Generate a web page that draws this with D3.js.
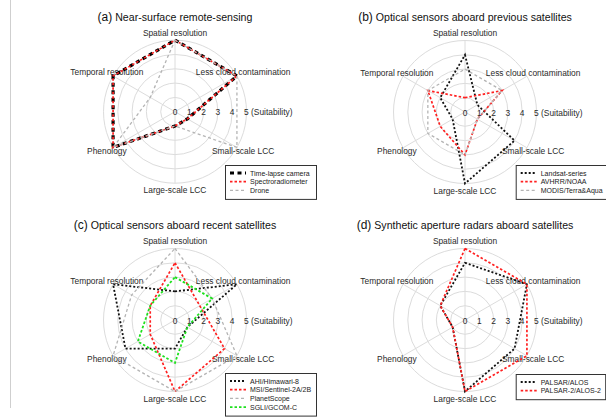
<!DOCTYPE html>
<html lang="en">
  <head>
    <meta charset="UTF-8" />
    <title>Suitability radar charts</title>
    <script src="https://d3js.org/d3.v7.min.js"></script>
    <style>
      body {
        margin: 0;
        background: #fff;
      }
      svg {
        display: block;
        font-family: "Liberation Sans", Arial, sans-serif;
      }
      .grid {
        fill: none;
        stroke: #dcdcdc;
        stroke-width: 1;
      }
      .axis-label,
      .tick-label {
        font-size: 8.4px;
        fill: #2a2a2a;
      }
      .legend text {
        font-size: 7px;
        fill: #222;
      }
    </style>
  </head>
  <body>
    <div id="chart"></div>

    <script>
      // axes of every radar (clockwise from top)
      const axes = [
        "Spatial resolution",
        "Less cloud contamination",
        "Small-scale LCC",
        "Large-scale LCC",
        "Phenology",
        "Temporal resolution",
      ];
      const ticks = [0, 1, 2, 3, 4, 5];
      const tickLabels = ["0", "1", "2", "3", "4", "5 (Suitability)"];

      // (a) near-surface
      const timeLapse = [5, 5, 1, 1, 5, 5];
      const spectroradiometer = [5, 5, 1, 1, 5, 5];
      const drone = [5, 5, 5, 1, 5, 2];
      // (b) previous satellites
      const landsat = [4, 1, 4, 5, 1, 2];
      const avhrr = [1, 3, 1, 3, 2, 3];
      const modis = [3, 3, 1, 3, 3, 3];
      // (c) recent satellites
      const ahi = [2, 5, 1, 2, 4, 5];
      const msi = [4, 2, 4, 5, 2, 2];
      const planetScope = [5, 3, 5, 5, 5, 3.5];
      const sgli = [3, 3, 1, 3, 3, 2];
      // (d) SAR
      const palsar = [4, 5, 4, 5, 1, 2];
      const palsar2 = [5, 5, 5, 5, 1, 2];

      // line looks
      const styles = {
        thick: { color: "#000", width: 3.2, dash: "4,3.5" },
        black: { color: "#111", width: 1.8, dash: "2,2" },
        red: { color: "#ff2020", width: 1.7, dash: "2.5,2" },
        gray: { color: "#b4b4b4", width: 1.3, dash: "3,2.5" },
        green: { color: "#1ee01e", width: 1.8, dash: "2.5,2" },
      };

      const panels = [
        {
          tag: "(a)",
          title: " Near-surface remote-sensing",
          cx: 175, cy: 111.7,
          legend: { x: 225, y: 165, w: 91 },
          series: [
            { name: "Time-lapse camera", values: timeLapse, style: "thick" },
            { name: "Spectroradiometer", values: spectroradiometer, style: "red" },
            { name: "Drone", values: drone, style: "gray" },
          ],
        },
        {
          tag: "(b)",
          title: " Optical sensors aboard previous satellites",
          cx: 465, cy: 112,
          legend: { x: 515.7, y: 165, w: 100 },
          series: [
            { name: "Landsat-series", values: landsat, style: "black" },
            { name: "AVHRR/NOAA", values: avhrr, style: "red" },
            { name: "MODIS/Terra&Aqua", values: modis, style: "gray" },
          ],
        },
        {
          tag: "(c)",
          title: " Optical sensors aboard recent satellites",
          cx: 175, cy: 320,
          legend: { x: 225, y: 373, w: 91 },
          series: [
            { name: "AHI/Himawari-8", values: ahi, style: "black" },
            { name: "MSI/Sentinel-2A/2B", values: msi, style: "red" },
            { name: "PlanetScope", values: planetScope, style: "gray" },
            { name: "SGLI/GCOM-C", values: sgli, style: "green" },
          ],
        },
        {
          tag: "(d)",
          title: " Synthetic aperture radars aboard satellites",
          cx: 465, cy: 320,
          legend: { x: 515.7, y: 374, w: 89.5 },
          series: [
            { name: "PALSAR/ALOS", values: palsar, style: "black" },
            { name: "PALSAR-2/ALOS-2", values: palsar2, style: "red" },
          ],
        },
      ];

      const width = 606,
        height = 417,
        R = 71.5;

      const r = d3.scaleLinear().domain([0, 5]).range([0, R]);
      const angle = d3
        .scaleLinear()
        .domain([0, axes.length])
        .range([0, 2 * Math.PI]);

      const radar = d3
        .lineRadial()
        .angle((d, i) => angle(i))
        .radius((d) => r(d))
        .curve(d3.curveLinearClosed);

      const svg = d3
        .select("#chart")
        .append("svg")
        .attr("width", width)
        .attr("height", height);

      // thin frame line on the left side
      svg
        .append("line")
        .attr("x1", 10.5)
        .attr("x2", 10.5)
        .attr("y1", 0)
        .attr("y2", 408)
        .attr("stroke", "#cfcfcf");

      function drawPanel(p) {
        const g = svg
          .append("g")
          .attr("transform", `translate(${p.cx},${p.cy})`);

        // title
        const t = g
          .append("text")
          .attr("x", 0)
          .attr("y", -91)
          .attr("text-anchor", "middle")
          .attr("fill", "#111");
        t.append("tspan").attr("font-size", "12px").text(p.tag);
        t.append("tspan").attr("font-size", "10.6px").text(p.title);

        // circles
        g.selectAll(".ring")
          .data(ticks.slice(1))
          .enter()
          .append("circle")
          .attr("class", "grid")
          .attr("r", (d) => r(d));

        // spokes
        g.selectAll(".spoke")
          .data(axes)
          .enter()
          .append("line")
          .attr("class", "grid")
          .attr("x1", 0)
          .attr("y1", 0)
          .attr("x2", (d, i) => r(5) * Math.sin(angle(i)))
          .attr("y2", (d, i) => -r(5) * Math.cos(angle(i)));

        // axis names
        g.selectAll(".axis-label")
          .data(axes)
          .enter()
          .append("text")
          .attr("class", "axis-label")
          .attr("x", (d, i) => r(5) * 1.1 * Math.sin(angle(i)))
          .attr("y", (d, i) => -r(5) * 1.1 * Math.cos(angle(i)))
          .attr("text-anchor", "middle")
          .attr("dominant-baseline", "central")
          .text((d) => d);

        // scale numbers along the horizontal
        g.selectAll(".tick-label")
          .data(ticks)
          .enter()
          .append("text")
          .attr("class", "tick-label")
          .attr("x", (d) => (d === 5 ? r(d) - 2.4 : r(d)))
          .attr("y", 0.5)
          .attr("text-anchor", (d) => (d === 5 ? "start" : "middle"))
          .attr("dominant-baseline", "central")
          .text((d, i) => tickLabels[i]);

        // series polygons
        g.selectAll(".series")
          .data(p.series)
          .enter()
          .append("path")
          .attr("d", (d) => radar(d.values))
          .attr("fill", "none")
          .attr("stroke", (d) => styles[d.style].color)
          .attr("stroke-width", (d) => styles[d.style].width)
          .attr("stroke-dasharray", (d) => styles[d.style].dash);

        // legend
        const n = p.series.length;
        const lg = svg
          .append("g")
          .attr("class", "legend")
          .attr("transform", `translate(${p.legend.x},${p.legend.y})`);
        lg.append("rect")
          .attr("x", 0.5)
          .attr("y", 0.5)
          .attr("width", p.legend.w)
          .attr("height", 8 + 8.7 * (n - 1) + 8.5)
          .attr("fill", "#fff")
          .attr("stroke", "#333")
          .attr("stroke-width", 1);
        const row = lg
          .selectAll(".row")
          .data(p.series)
          .enter()
          .append("g")
          .attr("transform", (d, i) => `translate(0,${8 + 8.7 * i})`);
        row
          .append("line")
          .attr("x1", 5)
          .attr("x2", 21)
          .attr("stroke", (d) => styles[d.style].color)
          .attr("stroke-width", (d) => styles[d.style].width)
          .attr("stroke-dasharray", (d) => styles[d.style].dash);
        row
          .append("text")
          .attr("x", 25)
          .attr("dominant-baseline", "central")
          .text((d) => d.name);
      }

      panels.forEach(drawPanel);
    </script>
  </body>
</html>
